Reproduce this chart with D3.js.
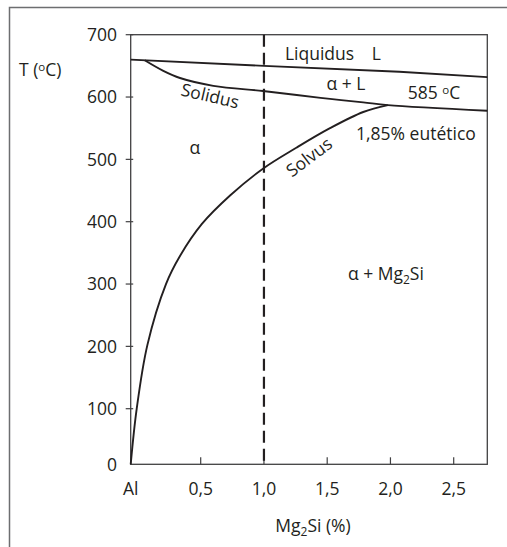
<!DOCTYPE html>
<html>
<head>
<meta charset="utf-8">
<script src="https://cdn.jsdelivr.net/npm/d3@7"></script>
<style>
  body { margin: 0; background: #fff; }
  svg { display: block; font-family: 'Open Sans', sans-serif; }
  text { fill: #231f20; }
</style>
</head>
<body>
<svg id="chart" width="507" height="547"></svg>
<script>
// axis ticks
const xTicks = [0, 0.5, 1.0, 1.5, 2.0, 2.5]
const xTickLabels = ['Al', '0,5', '1,0', '1,5', '2,0', '2,5']
const yTicks = [0, 100, 200, 300, 400, 500, 600, 700]

// curves, [Mg2Si %, T °C]
const liquidus = [[0, 660], [1.0, 650], [2.07, 640.5], [2.77, 632]]
const solidus = [[0.1, 659], [0.233, 642], [0.352, 630.5], [0.6, 618], [0.992, 609.7],
  [1.259, 603.3], [1.522, 597], [1.785, 591.5], [1.98, 587], [2.77, 578]]
const solvus = [[0, 0], [0.043, 100], [0.119, 202], [0.252, 300], [0.352, 345],
  [0.508, 396], [0.732, 442], [0.992, 485], [1.259, 519], [1.522, 550],
  [1.785, 576], [1.98, 587]]
const alloy = 1.0 // dashed line

let svg = d3.select('#chart')
let fs = 17.5

// the drawing is not quite linear, so polylinear scales
let x = d3.scaleLinear().domain([0, 0.5, 2.5, 2.77]).range([130.7, 200.7, 453.7, 487.3])
let y = d3.scaleLinear().domain([0, 100, 700]).range([464.3, 408.7, 34.7])

// outer frame (only top and left show)
svg.append('path')
  .attr('d', 'M9.5,547V7.5H507')
  .attr('fill', 'none')
  .attr('stroke', '#6d6e70')
  .attr('stroke-width', 1.5)

// plot box
svg.append('rect')
  .attr('x', x(0)).attr('y', y(700))
  .attr('width', x(2.77) - x(0)).attr('height', y(0) - y(700))
  .attr('fill', 'none')
  .attr('stroke', '#414042')
  .attr('stroke-width', 1.3)

// y ticks
let yAxis = svg.append('g')
yAxis.selectAll('line').data(yTicks.slice(1)).join('line')
  .attr('x1', x(0) - 5).attr('x2', x(0) + 2.5)
  .attr('y1', d => y(d)).attr('y2', d => y(d))
  .attr('stroke', '#414042').attr('stroke-width', 1.2)
yAxis.selectAll('text').data(yTicks).join('text')
  .attr('x', 117).attr('y', d => y(d))
  .attr('dy', '0.36em')
  .attr('text-anchor', 'end')
  .attr('font-size', fs)
  .text(d => d)

// x ticks
let xAxis = svg.append('g')
xAxis.selectAll('line').data(xTicks.slice(1)).join('line')
  .attr('x1', d => x(d)).attr('x2', d => x(d))
  .attr('y1', y(0)).attr('y2', y(0) - 7)
  .attr('stroke', '#414042').attr('stroke-width', 1.2)
xAxis.selectAll('text').data(xTicks).join('text')
  .attr('x', d => x(d)).attr('y', 488.5)
  .attr('dy', '0.36em')
  .attr('text-anchor', 'middle')
  .attr('font-size', fs)
  .text((d, i) => xTickLabels[i])

// axis titles
let xt = svg.append('text')
  .attr('x', 313).attr('y', 532)
  .attr('text-anchor', 'middle')
  .attr('font-size', fs)
xt.append('tspan').text('Mg')
xt.append('tspan').attr('font-size', 12).attr('dy', 4).text('2')
xt.append('tspan').attr('dy', -4).text('Si (%)')

let yt = svg.append('text')
  .attr('x', 19).attr('y', 76)
  .attr('font-size', fs)
yt.append('tspan').text('T (')
yt.append('tspan').attr('font-size', 11.5).attr('dy', -5.5).text('o')
yt.append('tspan').attr('dy', 5.5).text('C)')

// dashed alloy line
svg.append('line')
  .attr('x1', x(alloy)).attr('x2', x(alloy))
  .attr('y1', y(700)).attr('y2', y(0))
  .attr('stroke', '#231f20')
  .attr('stroke-width', 2.2)
  .attr('stroke-dasharray', '12,6')

// phase boundaries
let line = d3.line().x(d => x(d[0])).y(d => y(d[1]))
let curves = [
  { data: liquidus, curve: d3.curveLinear },
  { data: solidus, curve: d3.curveCatmullRom.alpha(0.5) },
  { data: solvus, curve: d3.curveCatmullRom.alpha(0.5) }
]
svg.selectAll('path.curve').data(curves).join('path')
  .attr('class', 'curve')
  .attr('d', d => line.curve(d.curve)(d.data))
  .attr('fill', 'none')
  .attr('stroke', '#231f20')
  .attr('stroke-width', 1.9)

// labels, positioned in data units
let labels = [
  { t: 'Liquidus', x: 1.166, y: 659.4, a: 'start' },
  { t: 'L', x: 1.852, y: 659.4, a: 'start' },
  { t: 'α + L', x: 1.649, y: 611.3, a: 'middle' },
  { t: '1,85% eutético', x: 1.728, y: 531, a: 'start' },
  { t: 'α', x: 0.459, y: 518.2, a: 'middle', c: true },
  { t: 'Solidus', x: 0.574, y: 602, a: 'middle', c: true, r: 13 },
  { t: 'Solvus', x: 1.356, y: 503.8, a: 'middle', c: true, r: -37 }
]
svg.selectAll('text.lbl').data(labels).join('text')
  .attr('class', 'lbl')
  .attr('font-size', fs)
  .attr('text-anchor', d => d.a)
  .attr('dy', d => d.c ? '0.36em' : 0)
  .attr('transform', d => 'translate(' + [x(d.x), y(d.y)].join(',') + ')' + (d.r ? ' rotate(' + d.r + ')' : ''))
  .text(d => d.t)

let eut = svg.append('text')
  .attr('x', x(2.136)).attr('y', y(596.8))
  .attr('font-size', fs)
eut.append('tspan').text('585 ')
eut.append('tspan').attr('font-size', 11.5).attr('dy', -5.5).text('o')
eut.append('tspan').attr('dy', 5.5).text('C')

let mg = svg.append('text')
  .attr('x', x(1.664)).attr('y', y(306.5))
  .attr('font-size', fs)
mg.append('tspan').text('α + Mg')
mg.append('tspan').attr('font-size', 12).attr('dy', 4).text('2')
mg.append('tspan').attr('dy', -4).text('Si')
</script>
</body>
</html>
